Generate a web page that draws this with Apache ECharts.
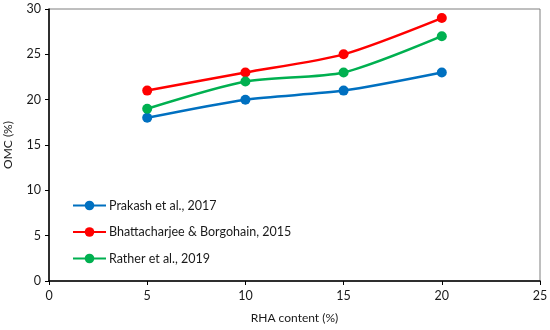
<!DOCTYPE html>
<html><head><meta charset="utf-8">
<script src="https://cdn.jsdelivr.net/npm/echarts@6/dist/echarts.min.js"></script>
<style>html,body{margin:0;padding:0;background:#fff}#c{width:550px;height:330px}</style>
</head><body><div id="c"></div>
<script>
const xValues = [5, 10, 15, 20];
const prakash = [18, 20, 21, 23];
const bhattacharjee = [21, 23, 25, 29];
const rather = [19, 22, 23, 27];
const seriesNames = ['Prakash et al., 2017', 'Bhattacharjee & Borgohain, 2015', 'Rather et al., 2019'];
const colors = ['#0070C0', '#FF0000', '#00B050'];
const FONT = 'Lato';

function mk(name, vals, color) {
  return {
    name: name, type: 'line', smooth: 0.25,
    data: xValues.map((x, i) => [x, vals[i]]),
    symbol: 'circle', symbolSize: 10,
    lineStyle: { color: color, width: 2.5 },
    itemStyle: { color: color },
    emphasis: { disabled: true }
  };
}
const chart = echarts.init(document.getElementById('c'));
chart.setOption({
  animation: false,
  textStyle: { fontFamily: FONT },
  grid: { left: 49, right: 10, top: 9, bottom: 49, show: true, borderColor: '#7f7f7f', borderWidth: 1,
          containLabel: false, outerBoundsMode: 'none' },
  legend: {
    orient: 'vertical', left: 67, top: 194, itemGap: 13.5, itemWidth: 33, itemHeight: 12,
    textStyle: { fontFamily: FONT, fontSize: 12.5, color: '#1a1a1a', padding: [0, 0, 0, -2] },
    data: seriesNames
  },
  xAxis: {
    type: 'value', min: 0, max: 25, interval: 5,
    name: 'RHA content (%)', nameLocation: 'middle', nameGap: 31,
    nameTextStyle: { fontFamily: FONT, fontSize: 12, color: '#1a1a1a' },
    axisLine: { show: true, lineStyle: { color: '#000', width: 1.5 } },
    axisTick: { show: true, inside: false, length: 4, lineStyle: { color: '#000' } },
    axisLabel: { fontFamily: FONT, fontSize: 12.5, color: '#1a1a1a', margin: 8 },
    splitLine: { show: false }
  },
  yAxis: {
    type: 'value', min: 0, max: 30, interval: 5,
    name: 'OMC (%)', nameLocation: 'middle', nameGap: 35,
    nameTextStyle: { fontFamily: FONT, fontSize: 12, color: '#1a1a1a' },
    axisLine: { show: true, lineStyle: { color: '#000', width: 1.5 } },
    axisTick: { show: true, inside: false, length: 4, lineStyle: { color: '#000' } },
    axisLabel: { fontFamily: FONT, fontSize: 12.5, color: '#1a1a1a', margin: 8 },
    splitLine: { show: false }
  },
  series: [
    mk(seriesNames[0], prakash, colors[0]),
    mk(seriesNames[1], bhattacharjee, colors[1]),
    mk(seriesNames[2], rather, colors[2])
  ]
});
</script></body></html>
